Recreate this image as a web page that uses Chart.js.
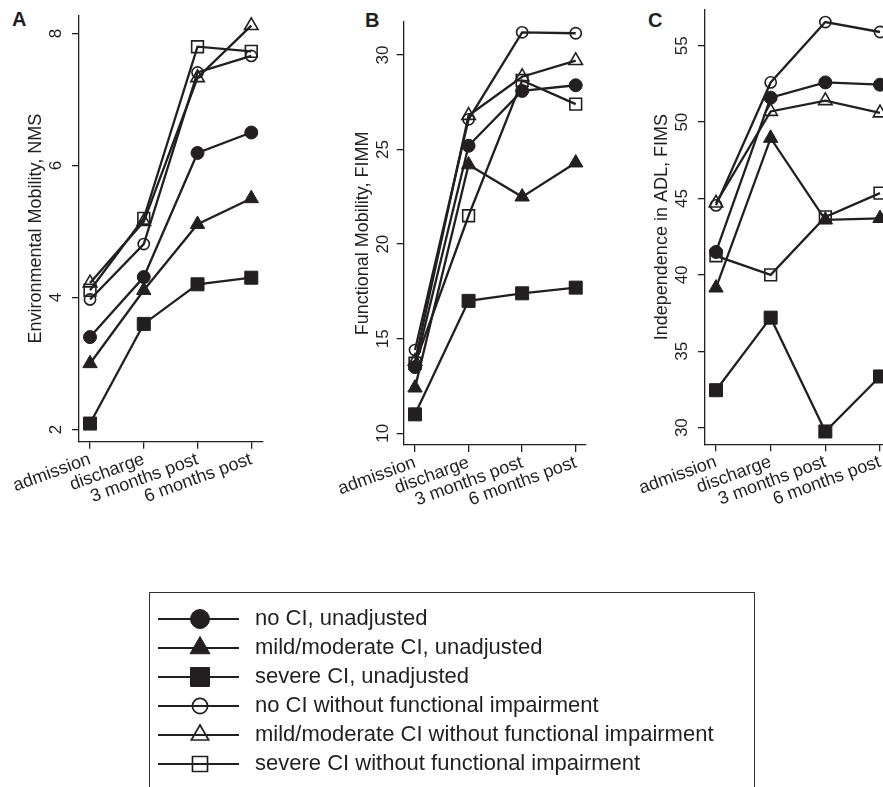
<!DOCTYPE html>
<html>
<head>
<meta charset="utf-8">
<script src="https://cdn.jsdelivr.net/npm/chart.js@4.4.0/dist/chart.umd.min.js"></script>
<style>
html, body { margin: 0; padding: 0; background: #fff; }
body { position: relative; width: 883px; height: 787px; overflow: hidden; }
.abs { position: absolute; }
.letter { position: absolute; font: bold 20px 'Liberation Sans', Arial, Helvetica, sans-serif; line-height: 20px; color: #231f20; }
#legendBox { position: absolute; left: 149px; top: 592px; width: 604px; height: 210px; border: 1.3px solid #333; border-bottom: none; overflow: hidden; }
</style>
</head>
<body>
<div class="letter" style="left:12px;top:9px">A</div>
<div class="letter" style="left:365px;top:10px">B</div>
<div class="letter" style="left:648px;top:10px">C</div>

<canvas id="cA" class="abs" width="290" height="540" style="left:0px;top:0px"></canvas>
<canvas id="cB" class="abs" width="300" height="540" style="left:300px;top:0px"></canvas>
<canvas id="cC" class="abs" width="300" height="540" style="left:610px;top:0px"></canvas>

<div id="legendBox"><canvas id="cL" class="abs" width="600" height="400" style="left:1px;top:7.5px"></canvas></div>

<script>
// ---------- data ----------
const categories = ['admission', 'discharge', '3 months post', '6 months post'];
const seriesLabels = [
  'no CI, unadjusted',
  'mild/moderate CI, unadjusted',
  'severe CI, unadjusted',
  'no CI without functional impairment',
  'mild/moderate CI without functional impairment',
  'severe CI without functional impairment'
];

// Panel A: Environmental Mobility, NMS
const nmsNoCI        = [3.40, 4.31, 6.19, 6.50];
const nmsMildCI      = [3.00, 4.11, 5.11, 5.50];
const nmsSevereCI    = [2.09, 3.60, 4.20, 4.30];
const nmsNoCINfi     = [3.97, 4.81, 7.41, 7.66];
const nmsMildCINfi   = [4.22, 5.15, 7.33, 8.12];
const nmsSevereCINfi = [4.11, 5.20, 7.80, 7.73];
const nmsTicks = [2, 4, 6, 8];

// Panel B: Functional Mobility, FIMM
const fimmNoCI        = [13.5, 25.2, 28.1, 28.4];
const fimmMildCI      = [12.4, 24.2, 22.5, 24.3];
const fimmSevereCI    = [11.0, 17.0, 17.4, 17.7];
const fimmNoCINfi     = [14.4, 26.6, 31.2, 31.15];
const fimmMildCINfi   = [13.8, 26.8, 28.85, 29.7];
const fimmSevereCINfi = [13.7, 21.5, 28.65, 27.4];
const fimmTicks = [10, 15, 20, 25, 30];

// Panel C: Independence in ADL, FIMS
const fimsNoCI        = [41.5, 51.6, 52.6, 52.45];
const fimsMildCI      = [39.15, 48.95, 43.6, 43.7];
const fimsSevereCI    = [32.45, 37.2, 29.75, 33.35];
const fimsNoCINfi     = [44.55, 52.6, 56.55, 55.9];
const fimsMildCINfi   = [44.7, 50.7, 51.4, 50.6];
const fimsSevereCINfi = [41.25, 40.0, 43.8, 45.35];
const fimsTicks = [30, 35, 40, 45, 50, 55];

// ---------- styling ----------
const FONT = "'Liberation Sans', Arial, Helvetica, sans-serif";
const INK = '#231f20';
Chart.defaults.font.family = FONT;
Chart.defaults.color = INK;

const markerStyles = [
  {shape: 'circle',   filled: true,  r: 6.5, lr: 9.5},
  {shape: 'triangle', filled: true,  r: 8.3, lr: 11.5},
  {shape: 'rect',     filled: true,  r: 9.2, lr: 13.4},
  {shape: 'circle',   filled: false, r: 5.6, lr: 7.6},
  {shape: 'triangle', filled: false, r: 7.8, lr: 10.0},
  {shape: 'rect',     filled: false, r: 8.3, lr: 10.6}
];

function makeDatasets(arrays) {
  return arrays.map((vals, i) => {
    const m = markerStyles[i];
    return {
      label: seriesLabels[i],
      data: vals.map((v, k) => ({x: k, y: v})),
      borderColor: INK,
      borderWidth: 2.3,
      pointStyle: m.shape,
      pointRadius: m.r,
      pointHoverRadius: m.r,
      pointBackgroundColor: m.filled ? INK : 'rgba(0,0,0,0)',
      pointBorderColor: INK,
      pointBorderWidth: m.filled ? 1 : 1.6,
      tension: 0,
      fill: false,
      clip: false
    };
  });
}

function axisLines() {
  return {
    grid: {display: true, drawOnChartArea: false, drawTicks: true, tickLength: 7, color: INK, lineWidth: 1.3},
    border: {display: true, color: INK, width: 1.3}
  };
}

function panel(id, arrays, yTicks, title, g) {
  new Chart(document.getElementById(id), {
    type: 'line',
    data: {datasets: makeDatasets(arrays)},
    options: {
      responsive: false,
      animation: false,
      events: [],
      layout: {autoPadding: false, padding: {left: 0, top: g.top, right: g.right, bottom: 0}},
      plugins: {legend: {display: false}, tooltip: {enabled: false}},
      scales: {
        x: Object.assign({
          type: 'linear', bounds: 'data', min: g.xmin, max: g.xmax,
          afterBuildTicks: s => { s.ticks = categories.map((c, i) => ({value: i})); },
          afterFit: s => { s.height = g.xh; s.paddingLeft = 0; s.paddingRight = 0; },
          ticks: {autoSkip: false, minRotation: 20, maxRotation: 20, padding: 0, color: INK,
                  font: {family: FONT, size: 18}, callback: v => categories[v]}
        }, axisLines()),
        y: Object.assign({
          type: 'linear', bounds: 'data', min: g.ymin, max: g.ymax,
          afterBuildTicks: s => { s.ticks = yTicks.map(v => ({value: v})); },
          afterFit: s => { s.width = g.yw; s.paddingTop = 0; s.paddingBottom = 0; },
          ticks: {autoSkip: false, minRotation: 90, maxRotation: 90, crossAlign: 'center', padding: g.tpad,
                  color: INK, font: {family: FONT, size: 17}},
          title: {display: true, text: title, color: INK, font: {family: FONT, size: 18},
                  padding: {top: g.titlePad, bottom: 0}}
        }, axisLines())
      }
    }
  });
}

const H = 540;
panel('cA', [nmsNoCI, nmsMildCI, nmsSevereCI, nmsNoCINfi, nmsMildCINfi, nmsSevereCINfi], nmsTicks,
  'Environmental Mobility, NMS',
  {top: 15.7, right: 27.7, xh: H - 441.7, yw: 79, xmin: -0.205, xmax: 3.205, ymin: 1.815, ymax: 8.27, tpad: 10.6, titlePad: 25.5});

panel('cB', [fimmNoCI, fimmMildCI, fimmSevereCI, fimmNoCINfi, fimmMildCINfi, fimmSevereCINfi], fimmTicks,
  'Functional Mobility, FIMM',
  {top: 21.7, right: 14, xh: H - 445, yw: 103.7, xmin: -0.211, xmax: 3.192, ymin: 9.38, ymax: 31.76, tpad: 4, titlePad: 52});

panel('cC', [fimsNoCI, fimsMildCI, fimsSevereCI, fimsNoCINfi, fimsMildCINfi, fimsSevereCINfi], fimsTicks,
  'Independence in ADL, FIMS',
  {top: 10, right: 19, xh: H - 444.3, yw: 95, xmin: -0.201, xmax: 3.201, ymin: 28.91, ymax: 57.34, tpad: 6, titlePad: 41.5});

// ---------- legend ----------
function makeIcon(m) {
  const c = document.createElement('canvas');
  c.width = 86; c.height = 30;
  const ctx = c.getContext('2d');
  const cx = 42, cy = 15, r = m.lr;
  ctx.strokeStyle = INK;
  ctx.lineWidth = 2.2;
  ctx.beginPath(); ctx.moveTo(0, cy); ctx.lineTo(81, cy); ctx.stroke();
  ctx.beginPath();
  if (m.shape === 'circle') {
    ctx.arc(cx, cy, r, 0, Math.PI * 2);
  } else if (m.shape === 'triangle') {
    let a = 0;
    for (let k = 0; k < 3; k++) {
      const px = cx + Math.sin(a) * r, py = cy - Math.cos(a) * r;
      if (k === 0) ctx.moveTo(px, py); else ctx.lineTo(px, py);
      a += 2 * Math.PI / 3;
    }
  } else {
    const h = r * Math.SQRT1_2;
    ctx.rect(cx - h, cy - h, 2 * h, 2 * h);
  }
  ctx.closePath();
  if (m.filled) { ctx.fillStyle = INK; ctx.fill(); ctx.lineWidth = 1; ctx.stroke(); }
  else { ctx.lineWidth = 1.7; ctx.stroke(); }
  return c;
}
const legendIcons = markerStyles.map(makeIcon);

new Chart(document.getElementById('cL'), {
  type: 'line',
  data: {datasets: seriesLabels.map(l => ({label: l, data: []}))},
  options: {
    responsive: false,
    animation: false,
    events: [],
    layout: {padding: 0},
    scales: {x: {display: false}, y: {display: false}},
    plugins: {
      tooltip: {enabled: false},
      legend: {
        display: true, position: 'top', align: 'start',
        labels: {
          usePointStyle: true, pointStyleWidth: 86, padding: 7, color: INK,
          font: {family: FONT, size: 22},
          generateLabels: () => seriesLabels.map((t, i) => ({
            text: t, pointStyle: legendIcons[i], fillStyle: 'rgba(0,0,0,0)', strokeStyle: 'rgba(0,0,0,0)',
            lineWidth: 0, hidden: false, datasetIndex: i, fontColor: INK
          }))
        }
      }
    }
  }
});
</script>
</body>
</html>
